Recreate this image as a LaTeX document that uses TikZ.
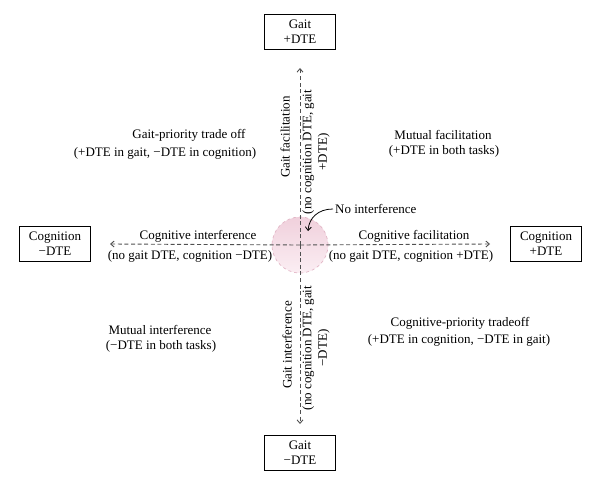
\documentclass[tikz,border=0pt]{standalone}
\usepackage{fontspec}
\setmainfont{Liberation Serif}
\usetikzlibrary{arrows.meta,shadings}
\definecolor{axisgray}{RGB}{80,80,80}
\definecolor{pinktop}{RGB}{240,208,220}
\definecolor{pinkbot}{RGB}{251,238,243}
\definecolor{pinkline}{RGB}{226,182,198}
\tikzset{
  txt/.style={font=\fontsize{13}{15.5}\selectfont, inner sep=0pt, align=center},
  boxnode/.style={draw, line width=0.8pt, minimum width=71pt, minimum height=35pt, align=center, inner sep=2pt, font=\fontsize{13}{15}\selectfont},
  axisline/.style={draw=axisgray, line width=0.9pt, dash pattern=on 4pt off 2.6pt, -{Straight Barb[length=3.5pt,width=6pt,line width=0.9pt]}},
}
\begin{document}
\begin{tikzpicture}[x=1pt,y=-1pt]
\useasboundingbox (0,0) rectangle (600,492);
% boxes
\node[boxnode] (gp) at (300,31.5) {Gait\\+DTE};
\node[boxnode] (gm) at (300,452.5) {Gait\\\textminus DTE};
\node[boxnode] (cm) at (55,243.5) {Cognition\\\textminus DTE};
\node[boxnode] (cp) at (546,243.5) {Cognition\\+DTE};
% no interference circle
\node[circle, minimum size=56pt, inner sep=0pt, draw=pinkline, dashed, line width=0.7pt, top color=pinktop, bottom color=pinkbot] (ni) at (300,245) {};
% axis tips
\coordinate (tn) at (300,68);
\coordinate (ts) at (300,424);
\coordinate (tw) at (110,244);
\coordinate (te) at (490,244);
\draw[axisline] (ni.center) -- (tn);
\draw[axisline] (ni.center) -- (ts);
\draw[axisline] (ni.center) -- (tw);
\draw[axisline] (ni.center) -- (te);
% horizontal labels
\node[txt] (ci) at (198,236) {Cognitive interference};
\node[txt] (cin) at (190,256) {(no gait DTE, cognition \textminus DTE)};
\node[txt] (cf) at (414,236) {Cognitive facilitation};
\node[txt] (cfn) at (411,256) {(no gait DTE, cognition +DTE)};
% vertical labels
\node[txt, rotate=90] (gf) at (285,137) {Gait facilitation};
\node[txt, rotate=90] (gfn) at (316,152) {(no cognition DTE, gait\\+DTE)};
\node[txt, rotate=90] (gi) at (287,345) {Gait interference};
\node[txt, rotate=90] (gin) at (316,348) {(no cognition DTE, gait\\\textminus DTE)};
% no interference
\node[txt, anchor=west] (nil) at (335,209) {No interference};
\coordinate (nia) at (308,231);
\draw[line width=0.8pt, -{Straight Barb[length=3.5pt,width=6pt,line width=0.8pt]}] ([xshift=-2pt]nil.west) .. controls (318,209) and (309,218) .. (nia);
% quadrants
\node[txt] (q1a) at (189,135) {Gait-priority trade off};
\node[txt] (q1b) at (165,153) {(+DTE in gait, \textminus DTE in cognition)};
\node[txt] (q2a) at (443,135) {Mutual facilitation};
\node[txt] (q2b) at (444,151) {(+DTE in both tasks)};
\node[txt] (q3a) at (160,330) {Mutual interference};
\node[txt] (q3b) at (161,346) {(\textminus DTE in both tasks)};
\node[txt] (q4a) at (460,323) {Cognitive-priority tradeoff};
\node[txt] (q4b) at (459,340) {(+DTE in cognition, \textminus DTE in gait)};
\end{tikzpicture}
\end{document}
